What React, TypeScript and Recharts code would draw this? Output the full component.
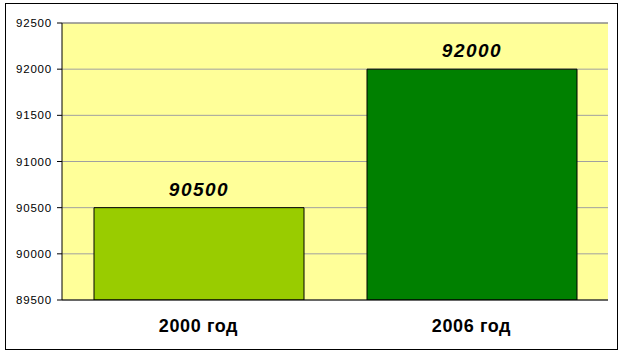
import { BarChart, Bar, XAxis, YAxis, CartesianGrid, ReferenceLine, LabelList, Cell } from "recharts";

const years = ["2000 год", "2006 год"];
const values = [90500, 92000];
const barColors = ["#99CC00", "#008000"];
const yTicks = [89500, 90000, 90500, 91000, 91500, 92000, 92500];
const edgeTicks = [0, 1, 2];

const data = years.map((year, i) => ({ year, value: values[i] }));

export default function App() {
    return (
        <div style={{ position: "absolute", left: 0, top: 0, width: 625, height: 356, background: "#fff" }}>
            <div
                style={{
                    position: "absolute",
                    left: 5,
                    top: 3,
                    width: 611,
                    height: 345,
                    border: "1.5px solid #000",
                }}
            />
            <BarChart
                width={625}
                height={356}
                data={data}
                margin={{ top: 23, right: 17, bottom: 16, left: 0 }}
                style={{ position: "absolute", left: 0, top: 0 }}
            >
                <CartesianGrid
                    vertical={false}
                    stroke="#a0a0a0"
                    fill="#FFFF99"
                    fillOpacity={1}
                    yAxisId="v"
                    xAxisId="cat"
                />
                <XAxis
                    xAxisId="edge"
                    type="number"
                    domain={[0, 2]}
                    ticks={edgeTicks}
                    height={0}
                    axisLine={false}
                    tickSize={6}
                    tickLine={{ stroke: "#000" }}
                    tickFormatter={() => ""}
                />
                <XAxis
                    xAxisId="cat"
                    dataKey="year"
                    height={40}
                    axisLine={{ stroke: "#000" }}
                    tickLine={false}
                    tickSize={0}
                    tickMargin={19}
                    tick={{
                        fill: "#000",
                        fontFamily: "Arial, 'Liberation Sans'",
                        fontSize: 18,
                        fontWeight: "bold",
                        letterSpacing: 0.6,
                    }}
                />
                <YAxis
                    yAxisId="v"
                    width={62}
                    domain={[89500, 92500]}
                    ticks={yTicks}
                    allowDataOverflow
                    axisLine={{ stroke: "#000" }}
                    tickLine={{ stroke: "#000" }}
                    tickSize={5}
                    tickMargin={5}
                    tick={{ fill: "#000", fontFamily: "Arial, 'Liberation Sans'", fontSize: 11.5, letterSpacing: 0.8 }}
                />
                <ReferenceLine yAxisId="v" xAxisId="cat" y={92500} stroke="#808080" />
                <ReferenceLine yAxisId="v" xAxisId="edge" x={2} stroke="#808080" />
                <Bar
                    dataKey="value"
                    xAxisId="cat"
                    yAxisId="v"
                    barSize={210}
                    stroke="#000"
                    strokeWidth={1}
                    isAnimationActive={false}
                >
                    {data.map((d, i) => (
                        <Cell key={d.year} fill={barColors[i]} />
                    ))}
                    <LabelList
                        dataKey="value"
                        position="top"
                        offset={12}
                        fill="#000"
                        fontFamily="Arial, 'Liberation Sans'"
                        fontSize={19}
                        fontWeight="bold"
                        fontStyle="italic"
                        letterSpacing={1.5}
                    />
                </Bar>
            </BarChart>
        </div>
    );
}
